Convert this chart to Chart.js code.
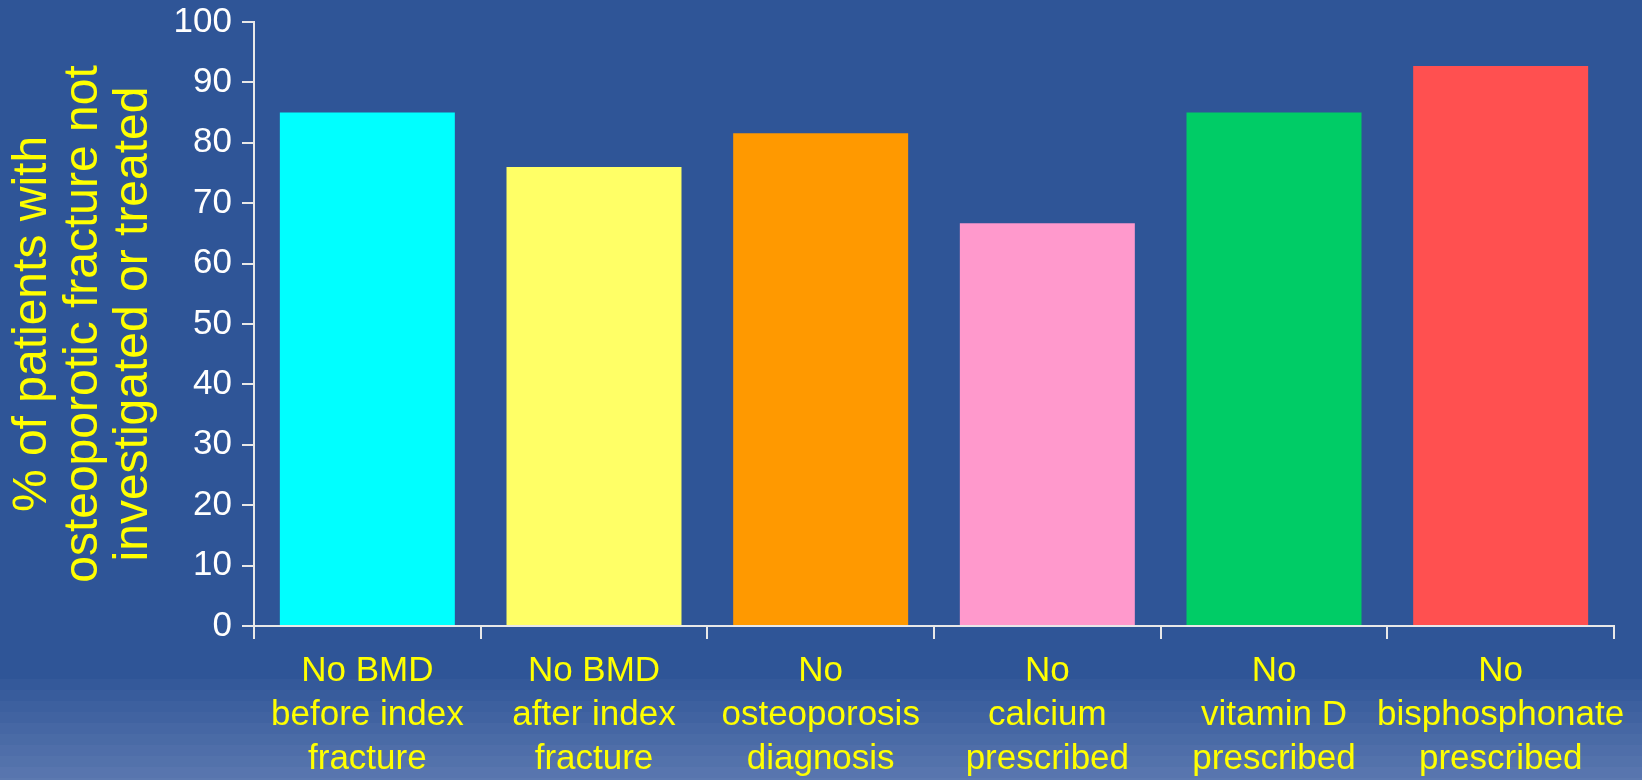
<!DOCTYPE html>
<html>
<head>
<meta charset="utf-8">
<title>Osteoporotic fracture care gaps</title>
<script src="https://cdn.jsdelivr.net/npm/chart.js@4.4.1/dist/chart.umd.min.js"></script>
<style>
  html, body { margin: 0; padding: 0; background: #2F5597; }
  #wrap { position: relative; width: 1642px; height: 780px; }
</style>
</head>
<body>
<div id="wrap"><canvas id="chart"></canvas></div>
<script>
// Care gaps after an index osteoporotic fracture
const categories = [
  ["No BMD", "before index", "fracture"],
  ["No BMD", "after index", "fracture"],
  ["No", "osteoporosis", "diagnosis"],
  ["No", "calcium", "prescribed"],
  ["No", "vitamin D", "prescribed"],
  ["No", "bisphosphonate", "prescribed"]
];
const percentNotDone = [85, 76, 81.6, 66.7, 85, 92.7];
const barColors = ["#00FFFF", "#FFFF66", "#FF9900", "#FF99CC", "#00CC66", "#FF5050"];
const yTitle = ["% of patients with", "osteoporotic fracture not", "investigated or treated"];

// Slide background: flat blue with a stepped, lighter band toward the bottom
const slideBackground = {
  id: "slideBackground",
  beforeDraw(chart) {
    const ctx = chart.ctx;
    const w = chart.width, h = chart.height;
    ctx.save();
    ctx.fillStyle = "rgb(47,85,151)";
    ctx.fillRect(0, 0, w, h);
    const start = 679, step = 11;
    const from = [47, 85, 151], to = [92, 121, 176];
    const n = Math.ceil((h - start) / step);
    for (let i = 0; i < n; i++) {
      const t = (i + 1) / n;
      const c = from.map((v, k) => Math.round(v + (to[k] - v) * t));
      ctx.fillStyle = `rgb(${c[0]},${c[1]},${c[2]})`;
      ctx.fillRect(0, start + i * step, w, step + 1);
    }
    ctx.restore();
  }
};

const axisColor = "#E8E8E8";
const fontFamily = "'Liberation Sans', Arial, sans-serif";

new Chart(document.getElementById("chart"), {
  type: "bar",
  data: {
    labels: categories,
    datasets: [{
      data: percentNotDone,
      backgroundColor: barColors,
      borderWidth: 0,
      barPercentage: 0.772,
      categoryPercentage: 1.0
    }]
  },
  options: {
    responsive: true,
    maintainAspectRatio: false,
    animation: false,
    layout: { padding: { top: 22, right: 28, left: 0, bottom: 0 } },
    plugins: {
      legend: { display: false },
      tooltip: { enabled: false }
    },
    scales: {
      x: {
        offset: true,
        grid: {
          display: true,
          offset: true,
          drawOnChartArea: false,
          drawTicks: true,
          tickLength: 13,
          color: axisColor,
          lineWidth: 2
        },
        border: { display: true, color: axisColor, width: 2 },
        ticks: {
          color: "#FFFF00",
          padding: 10,
          maxRotation: 0,
          autoSkip: false,
          font: { family: fontFamily, size: 35, lineHeight: 1.263 }
        },
        afterFit(scale) { scale.height = 154; }
      },
      y: {
        min: 0,
        max: 100,
        ticks: {
          stepSize: 10,
          color: "#FFFFFF",
          padding: 10,
          font: { family: fontFamily, size: 35 }
        },
        grid: {
          display: true,
          drawOnChartArea: false,
          drawTicks: true,
          tickLength: 12,
          color: axisColor,
          lineWidth: 2
        },
        border: { display: true, color: axisColor, width: 2 },
        title: {
          display: true,
          text: yTitle,
          color: "#FFFF00",
          padding: { top: 8, bottom: 0 },
          font: { family: fontFamily, size: 48, lineHeight: 1.05 }
        },
        afterFit(scale) {
          scale.width = 254;
          scale.paddingTop = 0;
          scale.paddingBottom = 0;
        }
      }
    }
  },
  plugins: [slideBackground]
});
</script>
</body>
</html>
